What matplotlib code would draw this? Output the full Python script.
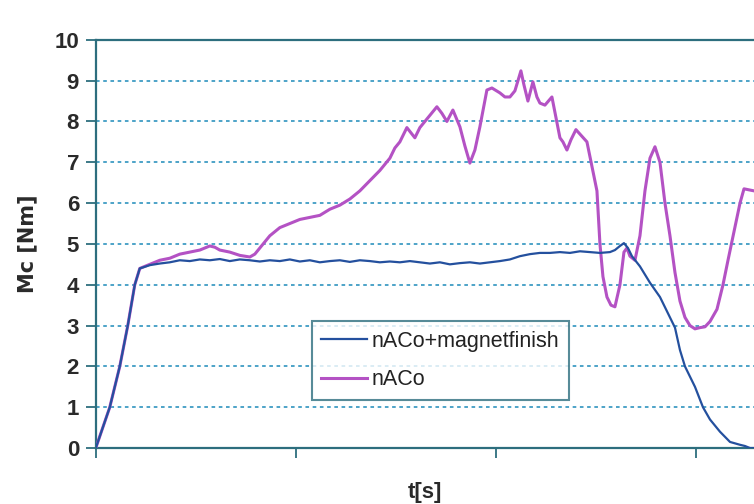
import matplotlib
matplotlib.use("Agg")
import matplotlib.pyplot as plt

plt.rcParams['font.family'] = ['Liberation Sans', 'DejaVu Sans']

# time axis (arbitrary units, one tick per unit)
t_mag = [0.0, 0.07, 0.12, 0.16, 0.195, 0.22,
         0.27, 0.32, 0.37, 0.42, 0.47, 0.52, 0.57, 0.62, 0.67, 0.72,
         0.77, 0.82, 0.87, 0.92, 0.97, 1.02, 1.07, 1.12, 1.17, 1.22,
         1.27, 1.32, 1.37, 1.42, 1.47, 1.52, 1.57, 1.62, 1.67, 1.72,
         1.77, 1.82, 1.87, 1.92, 1.97, 2.02, 2.07, 2.12, 2.17, 2.22,
         2.27, 2.32, 2.37, 2.42, 2.47, 2.52, 2.57,
         2.595, 2.62, 2.64, 2.66, 2.68, 2.72, 2.77, 2.82, 2.87, 2.895,
         2.92, 2.945, 2.97, 2.995, 3.035, 3.07, 3.12, 3.17, 3.22, 3.245,
         3.27, 3.29]
mc_mag = [0.0, 1.0, 2.0, 3.0, 4.0, 4.4,
          4.48, 4.52, 4.55, 4.6, 4.58, 4.62, 4.6, 4.63, 4.58, 4.62,
          4.6, 4.57, 4.6, 4.58, 4.62, 4.57, 4.6, 4.55, 4.58, 4.6,
          4.56, 4.6, 4.58, 4.55, 4.57, 4.55, 4.58, 4.55, 4.52, 4.55,
          4.5, 4.53, 4.55, 4.52, 4.55, 4.58, 4.62, 4.7, 4.75, 4.78,
          4.78, 4.8, 4.78, 4.82, 4.8, 4.78, 4.8,
          4.85, 4.95, 5.02, 4.9, 4.7, 4.45, 4.05, 3.7, 3.2, 2.95,
          2.4, 2.0, 1.75, 1.5, 1.0, 0.7, 0.4, 0.15, 0.08, 0.05,
          0.0, 0.0]

t_nac = [0.0, 0.07, 0.12, 0.16, 0.195, 0.22, 0.27, 0.32, 0.37, 0.42, 0.47, 0.52, 0.57,
         0.595, 0.62, 0.67, 0.72, 0.77, 0.795, 0.82, 0.87, 0.92, 0.97, 1.02, 1.07, 1.12,
         1.17, 1.22, 1.27, 1.32, 1.37, 1.42, 1.47, 1.495, 1.52, 1.555, 1.595, 1.62,
         1.67, 1.705, 1.73, 1.755, 1.785, 1.82, 1.845, 1.87, 1.895, 1.92, 1.955, 1.98,
         2.02, 2.045, 2.07, 2.095, 2.125, 2.14, 2.16, 2.185, 2.205, 2.22, 2.245, 2.28,
         2.3, 2.32, 2.335, 2.355, 2.375, 2.4, 2.455, 2.48, 2.505, 2.52, 2.535, 2.555,
         2.575, 2.595, 2.62, 2.64, 2.655, 2.67, 2.695, 2.72, 2.745, 2.77, 2.795, 2.82,
         2.845, 2.87, 2.895, 2.92, 2.945, 2.97, 2.995, 3.02, 3.045, 3.07, 3.105, 3.135,
         3.16, 3.19, 3.22, 3.24, 3.29]
mc_nac = [0.0, 1.0, 2.0, 3.0, 4.0, 4.4, 4.5, 4.6, 4.65, 4.75, 4.8, 4.85, 4.95,
          4.92, 4.85, 4.8, 4.72, 4.68, 4.75, 4.9, 5.2, 5.4, 5.5, 5.6, 5.65, 5.7,
          5.85, 5.95, 6.1, 6.3, 6.55, 6.8, 7.1, 7.35, 7.5, 7.85, 7.6, 7.85,
          8.15, 8.36, 8.2, 8.0, 8.28, 7.87, 7.4, 6.98, 7.3, 7.87, 8.77, 8.82,
          8.7, 8.6, 8.6, 8.75, 9.24, 8.9, 8.5, 8.97, 8.6, 8.45, 8.4, 8.6,
          8.1, 7.6, 7.5, 7.3, 7.55, 7.8, 7.5, 6.9, 6.3, 5.0, 4.2, 3.7,
          3.5, 3.46, 4.0, 4.8, 4.9, 4.7, 4.6, 5.2, 6.3, 7.1, 7.38, 7.0,
          6.0, 5.2, 4.3, 3.6, 3.2, 3.0, 2.92, 2.95, 2.97, 3.1, 3.4, 4.0,
          4.6, 5.3, 6.0, 6.35, 6.3]

labels = ['nACo+magnetfinish', 'nACo']
y_ticks = list(range(0, 11))

axis_col = '#2d6e7e'
grid_col = '#3f9cc4'

fig = plt.figure(figsize=(7.54, 5.04), dpi=100)
ax = fig.add_axes([0.127, 0.111, 0.873, 0.810])

ax.plot(t_nac, mc_nac, color='#b452c4', lw=2.2, label=labels[1], zorder=3)
ax.plot(t_mag, mc_mag, color='#24509e', lw=1.6, label=labels[0], zorder=4)

ax.set_xlim(0, 3.29)
ax.set_ylim(0, 10)
ax.set_yticks(y_ticks)
ax.set_xticks([0, 1, 2, 3])
ax.set_xticklabels([])

for v in y_ticks[1:-1]:
    ax.axhline(v, color=grid_col, lw=1.3, ls=(0, (2, 2)), zorder=1)

for s in ['left', 'bottom', 'top']:
    ax.spines[s].set_color(axis_col)
    ax.spines[s].set_linewidth(1.6)
ax.spines['right'].set_visible(False)

ax.tick_params(axis='y', direction='out', length=7, width=1.3, color=axis_col,
               labelsize=16, pad=5)
ax.tick_params(axis='x', direction='out', length=7, width=1.3, color=axis_col)
for lbl in ax.get_yticklabels():
    lbl.set_fontweight('bold')
    lbl.set_color('#2a2a2a')

ax.set_ylabel('Mc [Nm]', fontsize=15, fontweight='bold', color='#2a2a2a',
              family='DejaVu Sans', labelpad=12)
ax.set_xlabel('t[s]', fontsize=16, fontweight='bold', color='#2a2a2a', labelpad=14)

handles, labs = ax.get_legend_handles_labels()
leg = ax.legend(handles[::-1], labs[::-1], loc='lower left',
                bbox_to_anchor=(0.328, 0.118), borderaxespad=0,
                fontsize=15.5, frameon=True, fancybox=False, handlelength=2.1,
                handletextpad=0.25, borderpad=0.45, labelspacing=0.8)
leg.get_frame().set_edgecolor(axis_col)
leg.get_frame().set_linewidth(1.5)
for txt in leg.get_texts():
    txt.set_color('#222222')

fig.savefig('out.png', dpi=100, facecolor='white')
